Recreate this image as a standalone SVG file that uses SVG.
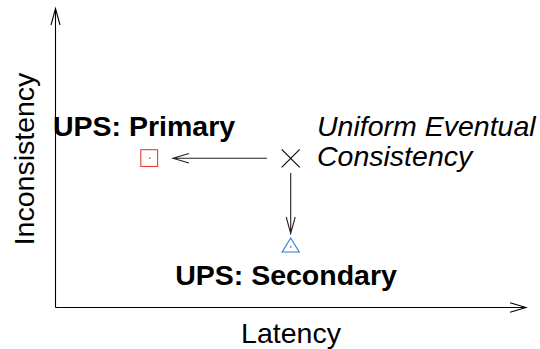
<svg xmlns="http://www.w3.org/2000/svg" width="540" height="349" viewBox="0 0 540 349">
<style>
.ln{fill:none;stroke:#000;stroke-width:1.1}
.ar{fill:none;stroke:#222;stroke-width:1.1}
.t{font-family:"Liberation Sans",Arial,sans-serif;font-size:28.5px;fill:#000}
.b{font-weight:bold}
.i{font-style:italic}
</style>
<rect width="540" height="349" fill="#fff"/>
<g id="axes">
<path class="ln" d="M55.5 307.5 V8.5 M51 25 L55.5 8.5 L60 25"/>
<path class="ln" d="M55.5 307.5 H526 M510 302.7 L526 307.5 L510 312.3"/>
<text class="t" x="291" y="343" text-anchor="middle">Latency</text>
<text class="t" transform="translate(33.5 159) rotate(-90)" text-anchor="middle">Inconsistency</text>
</g>
<g id="connectors">
<path class="ar" d="M267 158.3 H173 M189 153.5 L173 158.3 L189 163"/>
<path class="ar" d="M290.7 173 V233.5 M286.2 217 L290.7 233.5 L295.2 217"/>
</g>
<g id="uniform">
<path class="ln" d="M281.7 149.3 L299.7 167.3 M299.7 149.3 L281.7 167.3"/>
<text class="t i" x="317" y="136">Uniform Eventual</text>
<text class="t i" x="317" y="166">Consistency</text>
</g>
<g id="primary">
<rect x="140.8" y="149.7" width="16.8" height="16.8" fill="none" stroke="#f03a3a" stroke-width="1.1"/>
<rect x="149" y="157.5" width="1.4" height="1.4" fill="#f03a3a"/>
<text class="t b" x="53" y="136">UPS: Primary</text>
</g>
<g id="secondary">
<path d="M282.2 252 L299.2 252 L290.7 238 Z" fill="none" stroke="#2a7ad8" stroke-width="1.1"/>
<rect x="290" y="246.3" width="1.4" height="1.4" fill="#2a7ad8"/>
<text class="t b" x="286" y="285" text-anchor="middle">UPS: Secondary</text>
</g>
</svg>
